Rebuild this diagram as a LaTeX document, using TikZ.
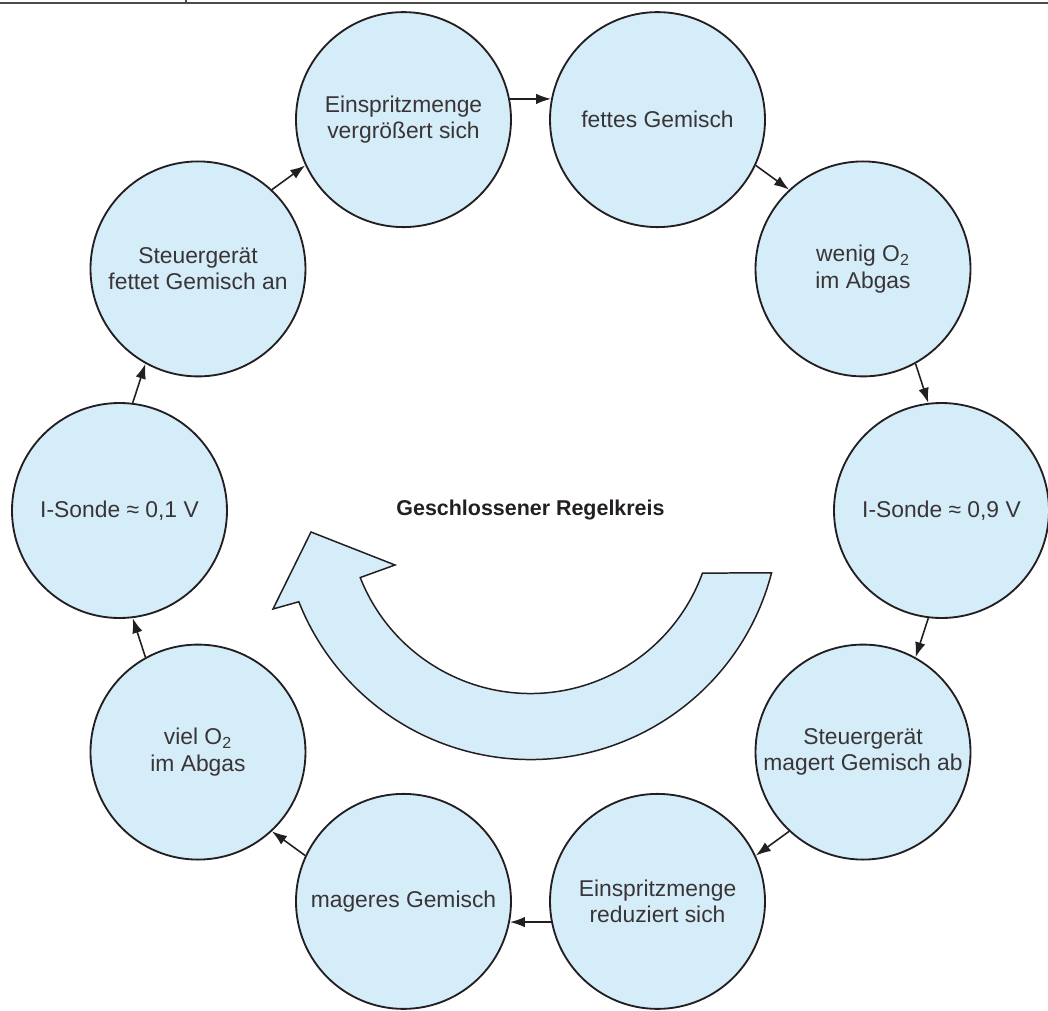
\documentclass[tikz,border=0pt]{standalone}
\usepackage{fontspec}
\setmainfont{Liberation Sans}
\usetikzlibrary{
  arrows.meta,
}
\definecolor{kreisblau}{RGB}{213,236,249}
\definecolor{strich}{RGB}{35,31,32}
\def\myrdist{8.22cm}   % Radius of the ring of states
\tikzset{
  semithick,
  >={Latex[length=3mm,width=2.1mm]},
  my state/.style={
    circle,
    draw=strich,
    line width=1.05pt,
    fill=kreisblau,
    minimum size=4.3cm,
    inner sep=0mm,
    align=center,
    text=strich!90,
    font=\fontsize{13}{15}\selectfont
  },
  my link/.style={
    ->,
    draw=strich,
    line width=0.9pt
  },
  big arrow/.style={
    draw=strich,
    line width=0.85pt,
    fill=kreisblau,
    line join=miter
  },
  my title/.style={
    text=strich,
    font=\fontsize{12.2}{14}\selectfont\bfseries
  }
}

\begin{document}
\begin{tikzpicture}
\useasboundingbox (-10.61,-9.99) rectangle (10.35,10.21);
\draw[draw=black!70, line width=0.7pt] (-10.61,10.15) -- (10.35,10.15)
  (-6.89,10.15) -- (-6.89,10.21);

\node[my state] (sonde9)  at (0:\myrdist)    {I-Sonde ≈ 0,9 V};
\node[my state] (wenig)   at (36:\myrdist)   {wenig O\textsubscript{2}\\im Abgas};
\node[my state] (fettG)   at (72:\myrdist)   {fettes Gemisch};
\node[my state] (mehr)    at (108:\myrdist)  {Einspritzmenge\\vergrößert sich};
\node[my state] (fettan)  at (144:\myrdist)  {Steuergerät\\fettet Gemisch an};
\node[my state] (sonde1)  at (180:\myrdist)  {I-Sonde ≈ 0,1 V};
\node[my state] (viel)    at (216:\myrdist)  {viel O\textsubscript{2}\\im Abgas};
\node[my state] (magerG)  at (252:\myrdist)  {mageres Gemisch};
\node[my state] (weniger) at (288:\myrdist)  {Einspritzmenge\\reduziert sich};
\node[my state] (magerab) at (324:\myrdist)  {Steuergerät\\magert Gemisch ab};

% Links run a little outside the line between the centres
\foreach \from/\to/\a in {sonde1/fettan/180, fettan/mehr/144, mehr/fettG/108,
                          fettG/wenig/72, wenig/sonde9/36, sonde9/magerab/0,
                          magerab/weniger/-36, weniger/magerG/-72,
                          magerG/viel/-108, viel/sonde1/-144}
  {
  \pgfmathtruncatemacro{\aout}{mod(\a-97+720,360)}
  \pgfmathtruncatemacro{\ain}{mod(\a+61+720,360)}
  \draw[my link] (\from.\aout) -- (\to.\ain);
  }

\node[my title] (titel) at (0,0) {Geschlossener Regelkreis};

\draw[big arrow] (-14.5:4.98) arc[start angle=-14.5, end angle=-158.5, radius=4.98]
  -- (-5.15,-1.97) -- (-4.39,-0.43) -- (-2.71,-1.09)
  -- (-158.5:3.66) arc[start angle=-158.5, end angle=-20, radius=3.66] -- cycle;
\end{tikzpicture}
\end{document}
